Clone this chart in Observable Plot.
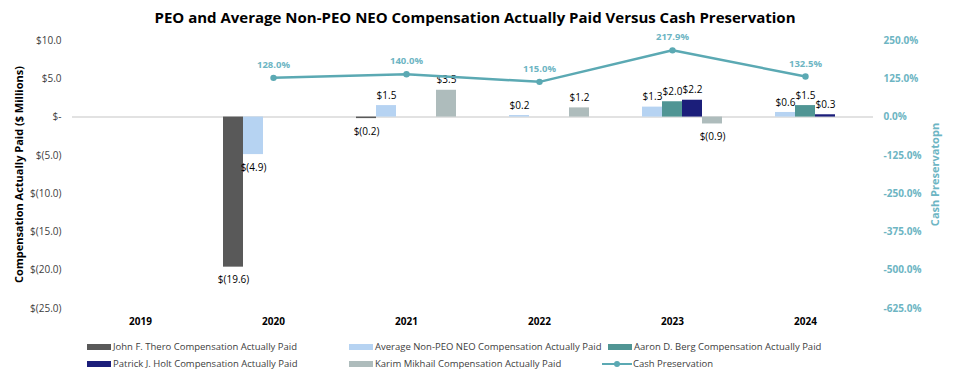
<!DOCTYPE html>
<html>
<head>
<meta charset="utf-8">
<script src="https://cdn.jsdelivr.net/npm/d3@7"></script>
<script src="https://cdn.jsdelivr.net/npm/@observablehq/plot@0.6"></script>
<style>
  html, body { margin: 0; padding: 0; background: #ffffff; }
  body { width: 954px; height: 388px; position: relative; overflow: hidden; font-family: "Open Sans", "Noto Sans", sans-serif; }
  #title { position: absolute; left: 0; top: 0; width: 950px; height: 34px; line-height: 34px; text-align: center; font-weight: bold; font-size: 15px; color: #000; }
  #charts { position: absolute; left: 0; top: 30px; width: 954px; height: 303px; }
  #charts svg { position: absolute; left: 0; top: 0; }
  #c2 [aria-label="x-axis tick label"] { font-weight: bold; fill: #000; }
  #legend { position: absolute; left: 0; top: 333px; width: 954px; height: 55px; font-size: 9.5px; color: #404040; }
  .item { position: absolute; height: 14px; line-height: 14px; white-space: nowrap; }
  .sw { position: absolute; left: 0; top: 4px; width: 24px; height: 6px; }
  .ln { position: absolute; left: 0; top: 6px; width: 30px; height: 2px; }
  .dt { position: absolute; left: 12px; top: 4px; width: 6px; height: 6px; border-radius: 3px; }
  .lbl { position: absolute; top: 0; }
</style>
</head>
<body>
<div id="title">PEO and Average Non-PEO NEO Compensation Actually Paid Versus Cash Preservation</div>
<div id="charts"></div>
<div id="legend"></div>
<script>
// ---- data ----
const years = ["2019", "2020", "2021", "2022", "2023", "2024"];
const seriesNames = [
  "John F. Thero Compensation Actually Paid",
  "Average Non-PEO NEO Compensation Actually Paid",
  "Aaron D. Berg Compensation Actually Paid",
  "Patrick J. Holt Compensation Actually Paid",
  "Karim Mikhail Compensation Actually Paid"
];
const theroPaid    = [null, -19.6, -0.2, null, null, null];
const avgNonPeoPaid = [null, -4.9, 1.5, 0.2, 1.3, 0.6];
const bergPaid     = [null, null, null, null, 2.0, 1.5];
const holtPaid     = [null, null, null, null, 2.2, 0.3];
const mikhailPaid  = [null, null, 3.5, 1.2, -0.9, null];
const cashPreservation = [null, 128.0, 140.0, 115.0, 217.9, 132.5];
const leftTicks = [-25, -20, -15, -10, -5, 0, 5, 10];
const rightTicks = [-625, -500, -375, -250, -125, 0, 125, 250];
const lineName = "Cash Preservation";
const leftTitle = "Compensation Actually Paid ($ Millions)";
const rightTitle = "Cash Preservatopn";

// ---- styling ----
const barColors = ["#595959", "#B6D3F2", "#509594", "#1B1E7A", "#AEBCBC"];
const lineColor = "#5BA9B3";
const lineLabelColor = "#6DB5C3";
const W = 954, H = 303, mT = 10, mB = 25, mL = 72, mR = 81;
const font = '"Open Sans", "Noto Sans", sans-serif';

const seriesValues = [theroPaid, avgNonPeoPaid, bergPaid, holtPaid, mikhailPaid];
const bars = [];
seriesValues.forEach((vals, s) => vals.forEach((v, i) => {
  if (v != null) bars.push({year: years[i], series: seriesNames[s], value: v});
}));
const line = years.map((y, i) => ({year: y, value: cashPreservation[i]})).filter(d => d.value != null);

const money = v => v === 0 ? "$-" : v < 0 ? `$(${(-v).toFixed(1)})` : `$${v.toFixed(1)}`;

const common = {
  width: W, height: H, marginTop: mT, marginBottom: mB, marginLeft: mL, marginRight: mR,
  style: {fontFamily: font, fontSize: "10px", background: "transparent", overflow: "visible"}
};

// layer 0: left axis, zero line, left title
const c0 = Plot.plot({
  ...common,
  style: {...common.style, color: "#404040"},
  x: {domain: years, type: "point", padding: 0.5, axis: null},
  y: {domain: [-25, 10], ticks: leftTicks, tickFormat: money, tickSize: 0, tickPadding: 11, label: null},
  marks: [
    Plot.ruleY([0], {stroke: "#D9D9D9", strokeWidth: 1.5}),
    Plot.text([leftTitle], {frameAnchor: "left", textAnchor: "middle", rotate: -90, dx: -53, fontWeight: "bold", fontSize: 11, fill: "#000"})
  ]
});

// layer 1: grouped bars (faceted by year)
const c1 = Plot.plot({
  ...common,
  style: {...common.style, color: "#000"},
  facet: {data: bars, x: "year"},
  fx: {domain: years, paddingInner: 0.23, paddingOuter: 0.115, axis: null, label: null},
  x: {domain: seriesNames, padding: 0, axis: null},
  y: {domain: [-25, 10], axis: null},
  color: {domain: seriesNames, range: barColors},
  marks: [
    Plot.barY(bars, {x: "series", y: "value", fill: "series"}),
    Plot.text(bars, {filter: d => d.value >= 0, x: "series", y: "value", text: d => money(d.value), dy: -10, fill: "#000", fontSize: 10}),
    Plot.text(bars, {filter: d => d.value < 0, x: "series", y: "value", text: d => money(d.value), dy: 13, fill: "#000", fontSize: 10})
  ]
});

// layer 2: cash preservation line, right axis, year labels
const c2 = Plot.plot({
  ...common,
  style: {...common.style, color: lineColor},
  x: {domain: years, type: "point", padding: 0.5, axis: "bottom", tickSize: 0, tickPadding: 9, label: null},
  y: {domain: [-625, 250], ticks: rightTicks, tickFormat: d => d.toFixed(1) + "%", axis: "right", tickSize: 0, tickPadding: 10, label: null},
  marks: [
    Plot.line(line, {x: "year", y: "value", stroke: lineColor, strokeWidth: 2.5}),
    Plot.dot(line, {x: "year", y: "value", fill: lineColor, r: 3.2}),
    Plot.text(line, {x: "year", y: "value", text: d => d.value.toFixed(1) + "%", dy: -13, fill: lineLabelColor, fontWeight: "bold", fontSize: 9.5}),
    Plot.text([rightTitle], {frameAnchor: "right", textAnchor: "middle", rotate: -90, dx: 62, fontWeight: "bold", fontSize: 11, fill: lineLabelColor})
  ]
});
c2.id = "c2";
c2.querySelectorAll('[aria-label="y-axis tick label"]').forEach(g => { g.setAttribute("font-weight", "bold"); g.setAttribute("fill", lineLabelColor); });

const charts = document.getElementById("charts");
charts.append(c0, c1, c2);

// ---- legend ----
const legend = document.getElementById("legend");
const items = [
  {name: seriesNames[0], color: barColors[0], x: 87, row: 0},
  {name: seriesNames[1], color: barColors[1], x: 349, row: 0},
  {name: seriesNames[2], color: barColors[2], x: 608, row: 0},
  {name: seriesNames[3], color: barColors[3], x: 87, row: 1},
  {name: seriesNames[4], color: barColors[4], x: 349, row: 1},
  {name: lineName, color: lineColor, x: 602, row: 1, line: true}
];
items.forEach(it => {
  const d = document.createElement("div");
  d.className = "item";
  d.style.left = it.x + "px";
  d.style.top = (7 + it.row * 17) + "px";
  if (it.line) {
    d.innerHTML = `<span class="ln" style="background:${it.color}"></span><span class="dt" style="background:${it.color}"></span><span class="lbl" style="left:31px">${it.name}</span>`;
  } else {
    d.innerHTML = `<span class="sw" style="background:${it.color}"></span><span class="lbl" style="left:26px">${it.name}</span>`;
  }
  legend.append(d);
});
</script>
</body>
</html>
